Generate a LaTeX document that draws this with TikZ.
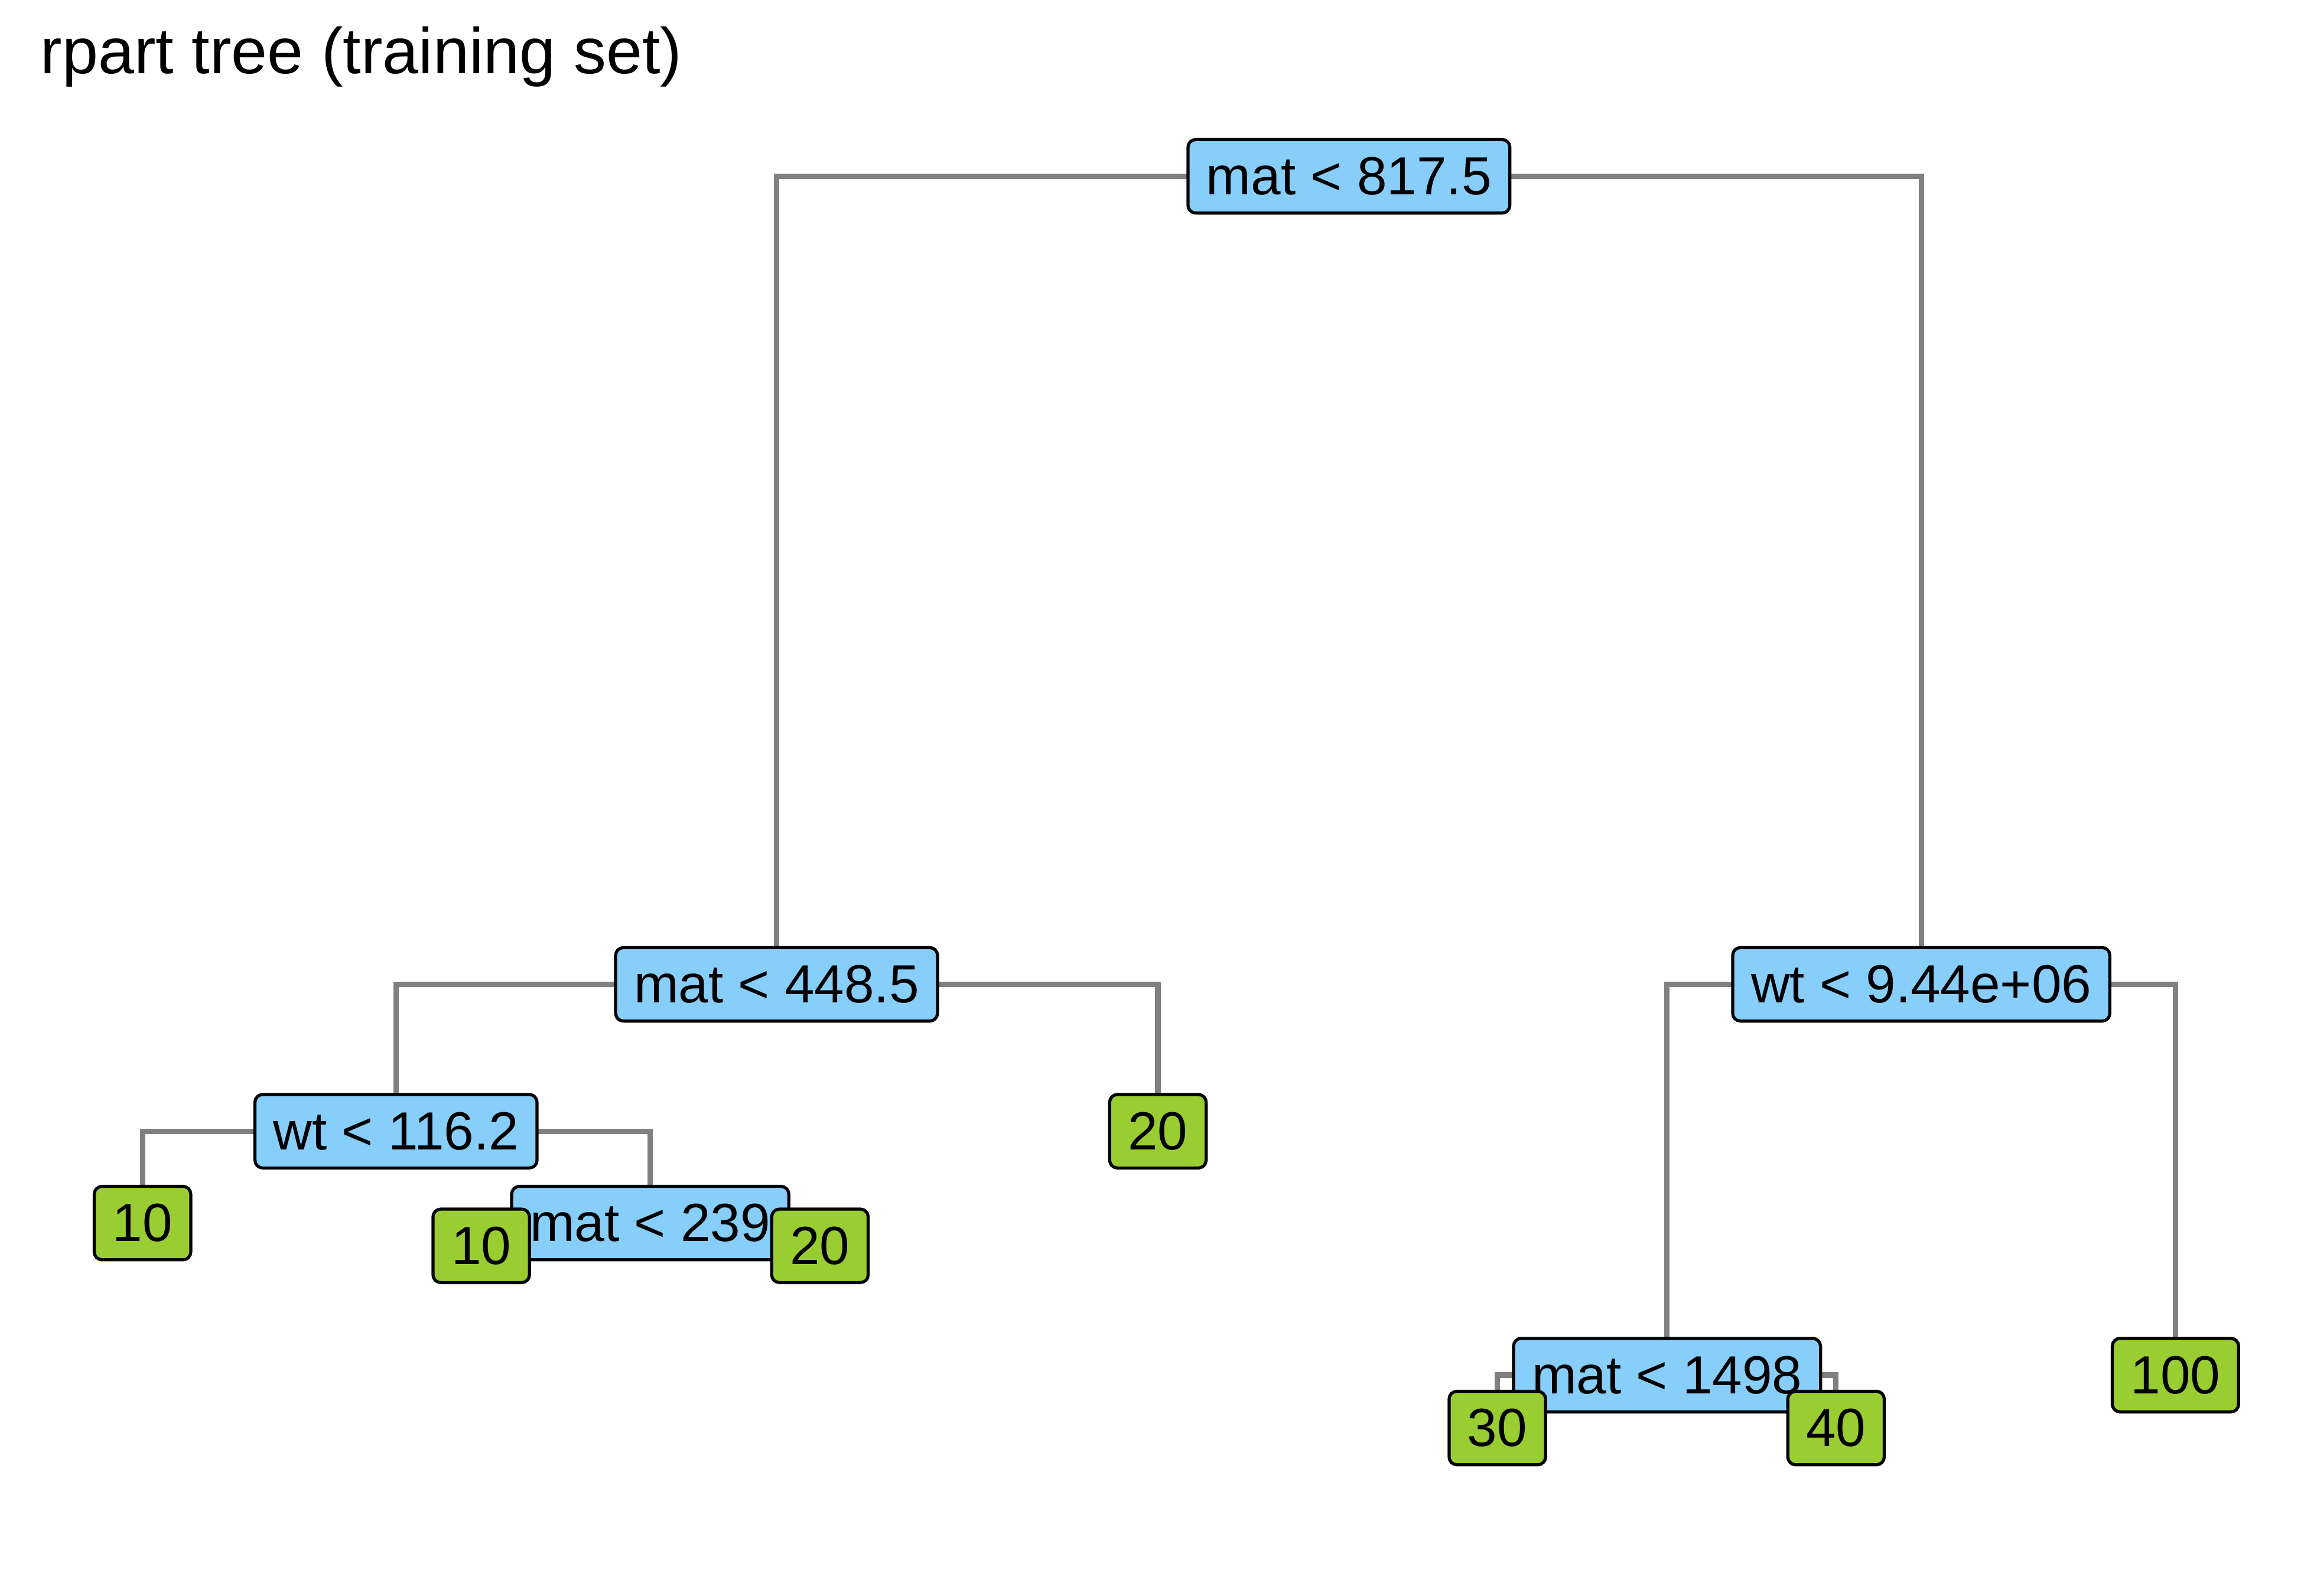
\documentclass[tikz,border=0pt]{standalone}
\usepackage{fontspec}
\setmainfont{Liberation Sans}
\usetikzlibrary{backgrounds}

\definecolor{splitblue}{RGB}{135,206,250}
\definecolor{leafgreen}{RGB}{154,205,50}
\definecolor{branchgray}{RGB}{128,128,128}

\tikzset{
    split/.style={draw=black, line width=0.6pt, fill=splitblue, rounded corners=1.5pt,
        inner xsep=0.125cm, inner ysep=0pt, minimum height=0.5cm, outer sep=0pt,
        font=\fontsize{10.4}{12}\selectfont},
    leaf/.style={split, fill=leafgreen},
    branch/.style={draw=branchgray, line width=1.05pt}
}

\begin{document}
\begin{tikzpicture}
        \useasboundingbox (0,0) rectangle (15.68,-10.86);

        % title
        \node[anchor=base west, inner sep=0pt, font=\fontsize{12.55}{15}\selectfont] (title) at (0.27,-0.50) {rpart tree (training set)};

        % split nodes
        % -----------
        \node[split] (mat817) at (9.18,-1.20) {mat < 817.5};
        \node[split] (mat448) at (5.285,-6.70) {mat < 448.5};
        \node[split] (wt944) at (13.075,-6.70) {wt < 9.44e+06};
        \node[split] (wt116) at (2.695,-7.70) {wt < 116.2};
        \node[split] (mat239) at (4.425,-8.325) {mat < 239};
        \node[split] (mat1498) at (11.345,-9.36) {mat < 1498};

        % leaves
        % ------
        \node[leaf] (leafA) at (0.97,-8.325) {10};
        \node[leaf] (leafB) at (3.275,-8.48) {10};
        \node[leaf] (leafC) at (5.58,-8.48) {20};
        \node[leaf] (leafD) at (7.88,-7.70) {20};
        \node[leaf] (leafE) at (10.19,-9.72) {30};
        \node[leaf] (leafF) at (12.495,-9.72) {40};
        \node[leaf] (leafG) at (14.805,-9.36) {100};

        % branches (behind the boxes)
        \begin{scope}[on background layer]
            \foreach \p/\c in {mat817/mat448, mat817/wt944, mat448/wt116, mat448/leafD,
                               wt116/leafA, wt116/mat239, mat239/leafB, mat239/leafC,
                               wt944/mat1498, wt944/leafG, mat1498/leafE, mat1498/leafF}
                \draw[branch] (\p.center) -| (\c.north);
        \end{scope}

    \end{tikzpicture}
\end{document}
